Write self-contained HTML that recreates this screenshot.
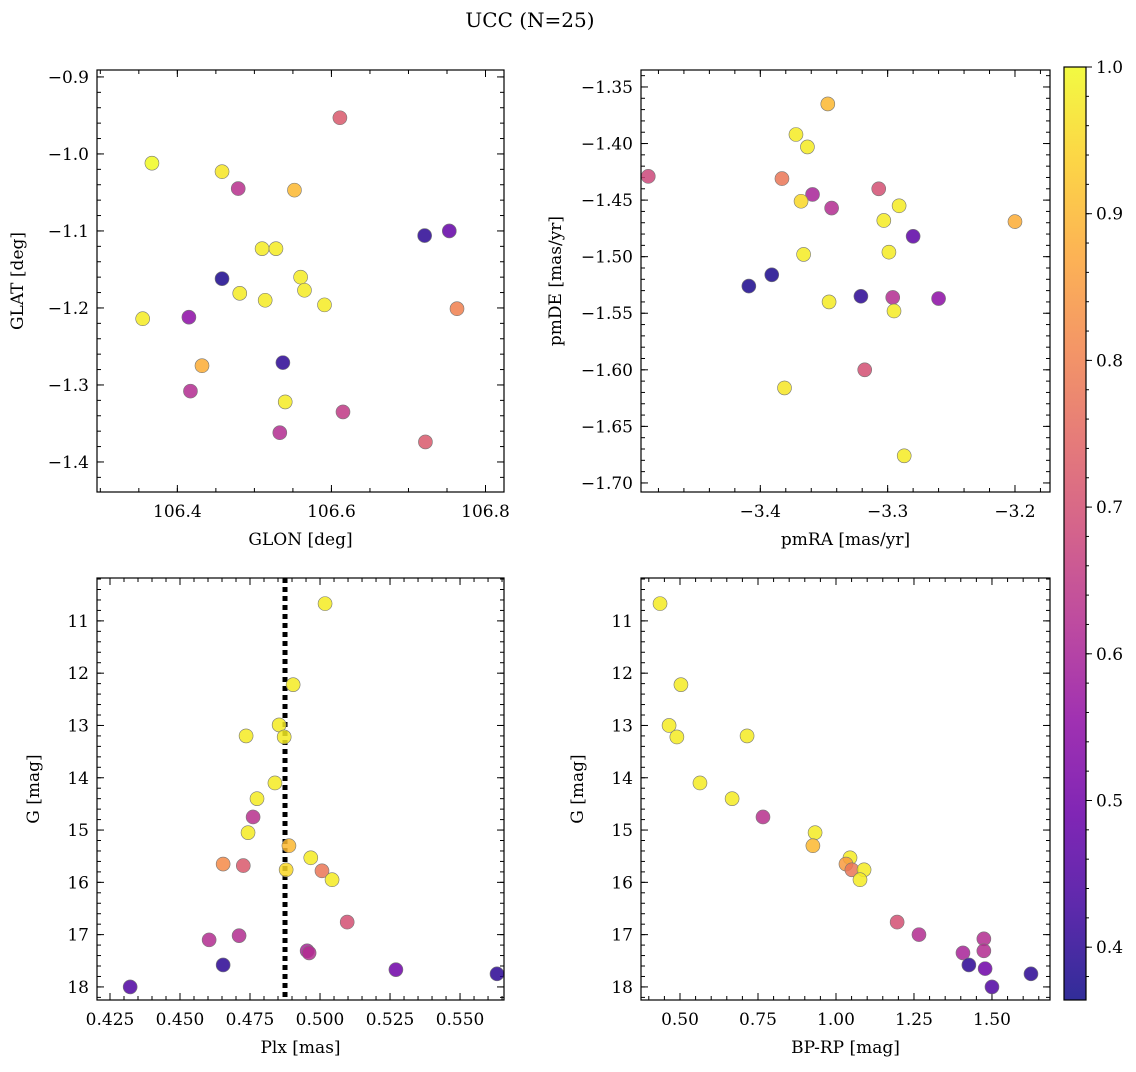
<!DOCTYPE html>
<html><head><meta charset="utf-8"><style>
html,body{margin:0;padding:0;background:#fff;}
svg text{font-family:"DejaVu Serif","Liberation Serif",serif;fill:#000;}
</style></head><body>
<svg id="fig" width="1136" height="1067" viewBox="0 0 1136 1067" xmlns="http://www.w3.org/2000/svg">
<text x="530" y="27" font-size="20" text-anchor="middle">UCC (N=25)</text>
</svg>
<script>
// ---- data ----
const glon=[106.611,106.367,106.458,106.479,106.552,106.721,106.753,106.510,106.528,106.458,106.560,106.565,106.481,106.514,106.591,106.355,106.415,106.763,106.432,106.537,106.417,106.540,106.615,106.533,106.722];
const glat=[-0.953,-1.012,-1.023,-1.045,-1.047,-1.106,-1.100,-1.123,-1.123,-1.162,-1.160,-1.177,-1.181,-1.190,-1.196,-1.214,-1.212,-1.201,-1.275,-1.271,-1.308,-1.322,-1.335,-1.362,-1.374];
const probTL=[0.72,1.0,0.97,0.63,0.9,0.4,0.48,0.98,0.98,0.38,0.98,0.98,0.98,0.98,0.98,0.98,0.55,0.8,0.88,0.4,0.62,0.98,0.65,0.62,0.72];
const pmra=[-3.347,-3.372,-3.363,-3.488,-3.383,-3.307,-3.359,-3.344,-3.368,-3.291,-3.200,-3.303,-3.280,-3.366,-3.299,-3.391,-3.409,-3.321,-3.296,-3.260,-3.346,-3.295,-3.318,-3.381,-3.287];
const pmde=[-1.365,-1.392,-1.403,-1.429,-1.431,-1.440,-1.445,-1.457,-1.451,-1.455,-1.469,-1.468,-1.482,-1.498,-1.496,-1.516,-1.526,-1.535,-1.536,-1.537,-1.540,-1.548,-1.600,-1.616,-1.676];
const probTR=[0.9,0.98,0.98,0.68,0.78,0.7,0.6,0.62,0.95,0.98,0.88,0.98,0.47,0.98,0.98,0.38,0.38,0.4,0.62,0.55,0.98,0.98,0.7,0.97,0.98];
const plx=[0.5018,0.4904,0.4854,0.4736,0.4872,0.4839,0.4775,0.4761,0.4743,0.4889,0.4967,0.4654,0.4726,0.4879,0.5007,0.5043,0.5097,0.4711,0.4604,0.4954,0.4961,0.4654,0.5271,0.5632,0.4322];
const gmagL=[10.67,12.22,12.99,13.20,13.22,14.10,14.40,14.75,15.05,15.30,15.53,15.65,15.68,15.76,15.78,15.95,16.76,17.02,17.10,17.31,17.35,17.58,17.67,17.75,18.00];
const probBL=[0.98,0.98,0.98,0.98,0.98,0.98,0.98,0.63,0.98,0.9,0.98,0.82,0.72,0.95,0.78,0.98,0.7,0.62,0.62,0.6,0.62,0.4,0.5,0.4,0.45];
const bprp=[0.436,0.503,0.465,0.490,0.715,0.564,0.667,0.766,0.933,0.926,1.045,1.032,1.051,1.090,1.077,1.196,1.266,1.474,1.407,1.474,1.426,1.478,1.625,1.500];
const gmagR=[10.67,12.22,13.00,13.22,13.20,14.10,14.40,14.75,15.05,15.30,15.53,15.65,15.76,15.76,15.95,16.76,17.00,17.08,17.35,17.31,17.58,17.65,17.75,18.00];
const probBR=[0.98,0.98,0.98,0.98,0.98,0.98,0.98,0.63,0.98,0.9,0.98,0.85,0.78,0.98,0.98,0.7,0.62,0.62,0.6,0.62,0.4,0.5,0.4,0.45];
const plxLine=0.4875;
const cbTicks=[0.4,0.5,0.6,0.7,0.8,0.9,1.0];

const NS="http://www.w3.org/2000/svg";
const svg=document.getElementById('fig');
function mk(tag,attrs,parent){const e=document.createElementNS(NS,tag);for(const k in attrs)e.setAttribute(k,attrs[k]);(parent||svg).appendChild(e);return e;}
const plasma=[[0.050,0.031,0.529],[0.255,0.016,0.616],[0.416,0,0.659],[0.561,0.051,0.643],[0.694,0.165,0.565],[0.800,0.278,0.471],[0.882,0.392,0.384],[0.949,0.518,0.294],[0.988,0.651,0.212],[0.988,0.808,0.145],[0.941,0.976,0.129]];
const VMIN=0.364,VMAX=1.0;
function cmap(v){let t=(v-VMIN)/(VMAX-VMIN);t=Math.max(0,Math.min(1,t))*10;const i=Math.min(9,Math.floor(t)),f=t-i;const a=plasma[i],b=plasma[i+1];
 return 'rgb('+[0,1,2].map(k=>Math.round(255*(a[k]+(b[k]-a[k])*f))).join(',')+')';}
function fmt(v,d){let s=v.toFixed(d);return s.replace('-','\u2212');}

function panel(o){
 const g=mk('g',{});
 
 
 const sx=v=>o.x0+(v-o.xmin)/(o.xmax-o.xmin)*(o.x1-o.x0);
 const sy=v=>o.inv? o.y0+(v-o.ymin)/(o.ymax-o.ymin)*(o.y1-o.y0) : o.y1-(v-o.ymin)/(o.ymax-o.ymin)*(o.y1-o.y0);
 const tg=mk('g',{stroke:'#000','stroke-width':1},g);
 function ticks(min,max,step,len,fn){const s=Math.ceil(min/step-1e-6);for(let k=s;k*step<=max+1e-9;k++)fn(k*step,len);}
 ticks(o.xmin,o.xmax,o.xminor,4,(v,l)=>{const x=sx(v);mk('line',{x1:x,x2:x,y1:o.y1,y2:o.y1-l},tg);mk('line',{x1:x,x2:x,y1:o.y0,y2:o.y0+l},tg);});
 ticks(o.ymin,o.ymax,o.yminor,4,(v,l)=>{const y=sy(v);mk('line',{x1:o.x0,x2:o.x0+l,y1:y,y2:y},tg);mk('line',{x1:o.x1,x2:o.x1-l,y1:y,y2:y},tg);});
 ticks(o.xmin,o.xmax,o.xmajor,7,(v,l)=>{const x=sx(v);mk('line',{x1:x,x2:x,y1:o.y1,y2:o.y1-l},tg);mk('line',{x1:x,x2:x,y1:o.y0,y2:o.y0+l},tg);
  const t=mk('text',{x:x,y:o.y1+25,'font-size':17,'text-anchor':'middle'},g);t.textContent=fmt(v,o.xd);
  
  });
 ticks(o.ymin,o.ymax,o.ymajor,7,(v,l)=>{const y=sy(v);mk('line',{x1:o.x0,x2:o.x0+l,y1:y,y2:y},tg);mk('line',{x1:o.x1,x2:o.x1-l,y1:y,y2:y},tg);
  const t=mk('text',{x:o.x0-8,y:y+6,'font-size':17,'text-anchor':'end'},g);t.textContent=fmt(v,o.yd);
  
  });
 if(o.vline!==undefined){const x=sx(o.vline);const l=mk('line',{x1:x,x2:x,y1:o.y0,y2:o.y1,stroke:'#000','stroke-width':5,'stroke-dasharray':'5,4'},g);
  
  }
 for(let i=0;i<o.xs.length;i++){
  const c=mk('circle',{cx:sx(o.xs[i]),cy:sy(o.ys[i]),r:7,fill:cmap(o.ps[i]),'fill-opacity':0.85,stroke:'#777','stroke-width':0.6},g);
  
  
 }
 const fr=mk('rect',{x:o.x0,y:o.y0,width:o.x1-o.x0,height:o.y1-o.y0,fill:'none',stroke:'#000','stroke-width':1.2},g);
 
 
 const xl=mk('text',{x:(o.x0+o.x1)/2,y:o.y1+53,'font-size':17,'text-anchor':'middle'},g);xl.textContent=o.xlabel;
 
 
 const cx=o.x0-o.ylo, cy=(o.y0+o.y1)/2;
 const yl=mk('text',{x:cx,y:cy,'font-size':17,'text-anchor':'middle',transform:'rotate(-90 '+cx+' '+cy+')'},g);yl.textContent=o.ylabel;
 
 
}
panel({name:'glon-glat-panel',x0:97,x1:504,y0:70,y1:492,xmin:106.2957,xmax:106.824,ymin:-1.439,ymax:-0.891,xmajor:0.2,xminor:0.05,ymajor:0.1,yminor:0.02,xd:1,yd:1,xs:glon,ys:glat,ps:probTL,xlabel:'GLON [deg]',ylabel:'GLAT [deg]',ylo:74});
panel({name:'pm-panel',x0:641,x1:1050,y0:70,y1:492,xmin:-3.4937,xmax:-3.1725,ymin:-1.708,ymax:-1.335,xmajor:0.1,xminor:0.02,ymajor:0.05,yminor:0.01,xd:1,yd:2,xs:pmra,ys:pmde,ps:probTR,xlabel:'pmRA [mas/yr]',ylabel:'pmDE [mas/yr]',ylo:80});
panel({name:'plx-g-panel',x0:97,x1:504,y0:578,y1:1000,xmin:0.42036,xmax:0.5657,ymin:10.18,ymax:18.25,inv:true,xmajor:0.025,xminor:0.005,ymajor:1,yminor:0.2,xd:3,yd:0,xs:plx,ys:gmagL,ps:probBL,xlabel:'Plx [mas]',ylabel:'G [mag]',ylo:58,vline:plxLine});
panel({name:'cmd-panel',x0:641,x1:1050,y0:578,y1:1000,xmin:0.375,xmax:1.686,ymin:10.18,ymax:18.25,inv:true,xmajor:0.25,xminor:0.05,ymajor:1,yminor:0.2,xd:2,yd:0,xs:bprp,ys:gmagR,ps:probBR,xlabel:'BP-RP [mag]',ylabel:'G [mag]',ylo:58});

const cb=mk('g',{});


const defs=mk('defs',{},cb);
const lg=mk('linearGradient',{id:'cbg',x1:0,y1:1,x2:0,y2:0},defs);
for(let i=0;i<=20;i++){const v=VMIN+(VMAX-VMIN)*i/20;mk('stop',{offset:(i/20),'stop-color':cmap(v),'stop-opacity':0.85},lg);}
const CX0=1064,CX1=1086,CY0=67,CY1=1000;
const cyf=v=>CY1-(v-VMIN)/(VMAX-VMIN)*(CY1-CY0);
mk('rect',{x:CX0,y:CY0,width:CX1-CX0,height:CY1-CY0,fill:'url(#cbg)',stroke:'#000','stroke-width':1.2},cb);
for(let k=Math.ceil(VMIN/0.02);k*0.02<=VMAX+1e-9;k++){const y=cyf(k*0.02);mk('line',{x1:CX1,x2:CX1+3,y1:y,y2:y,stroke:'#000'},cb);}
cbTicks.forEach(v=>{const y=cyf(v);mk('line',{x1:CX1,x2:CX1+6,y1:y,y2:y,stroke:'#000'},cb);
 const t=mk('text',{x:CX1+10,y:y+6,'font-size':17},cb);t.textContent=v.toFixed(1);
 
 });
</script>
</body></html>
